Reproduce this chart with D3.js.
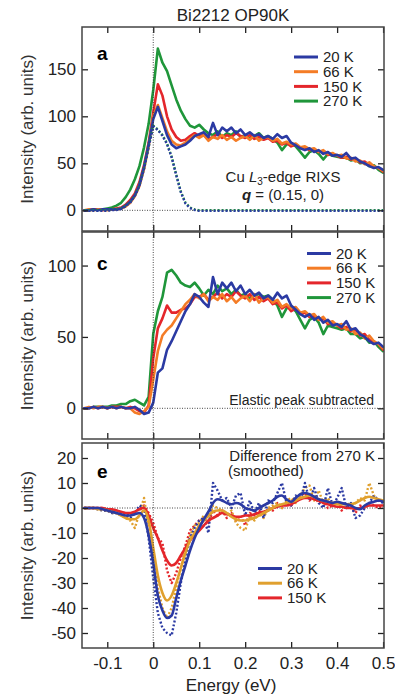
<!DOCTYPE html>
<html>
<head>
<meta charset="utf-8">
<script src="https://cdn.jsdelivr.net/npm/d3@7"></script>
<style>
  body { margin: 0; background: #fff; }
  svg { display: block; font-family: "Liberation Sans", Arial, Helvetica, sans-serif; }
</style>
</head>
<body>
<svg id="chart" width="395" height="698"></svg>
<script>
// energy grid (eV), 0.01 steps
var energy = [-0.15,-0.14,-0.13,-0.12,-0.11,-0.10,-0.09,-0.08,-0.07,-0.06,
  -0.05,-0.04,-0.03,-0.02,-0.01,0.00,0.01,0.02,0.03,0.04,
  0.05,0.06,0.07,0.08,0.09,0.10,0.11,0.12,0.13,0.14,
  0.15,0.16,0.17,0.18,0.19,0.20,0.21,0.22,0.23,0.24,
  0.25,0.26,0.27,0.28,0.29,0.30,0.31,0.32,0.33,0.34,
  0.35,0.36,0.37,0.38,0.39,0.40,0.41,0.42,0.43,0.44,
  0.45,0.46,0.47,0.48,0.49,0.50];

var temps = ["20 K", "66 K", "150 K", "270 K"];

// panel a : raw RIXS spectra
var aBlue = [0,0,1,0,1,1,1,1,2,5,
  9,16,27,46,70,97,110,95,80,70,
  66,68,70,74,79,81,83,78,93,80,
  88,84,88,82,86,80,83,79,81,77,
  79,76,81,77,79,72,69,66,64,66,
  62,64,60,62,58,59,57,61,55,56,
  52,50,47,45,46,43];
var aOrange = [0,1,0,1,1,0,1,1,2,4,
  8,15,26,44,68,100,112,98,84,74,
  70,69,72,76,80,77,80,74,78,76,
  80,75,78,74,77,79,75,80,74,77,
  78,74,76,71,73,70,71,67,68,65,
  66,62,64,60,61,58,59,55,56,52,
  53,49,51,47,45,42];
var aRed = [0,0,1,1,0,1,1,2,3,6,
  11,18,30,48,72,104,134,122,100,86,
  78,74,75,79,82,79,80,76,78,81,
  77,80,78,82,79,77,80,76,78,75,
  77,73,74,70,72,68,70,66,67,64,
  65,62,63,59,60,58,56,57,54,55,
  51,52,48,46,45,41];
var aGreen = [0,0,1,1,1,2,3,5,8,14,
  22,33,47,67,92,128,172,157,148,133,
  118,106,97,90,88,91,86,82,80,84,
  78,82,80,84,78,80,76,79,82,77,
  79,76,72,64,70,71,68,62,56,62,
  64,60,54,60,58,57,56,56,53,54,
  50,51,47,48,43,40];
var aElastic = [0,0,0,0,0,0,1,1,2,5,
  9,16,27,45,68,90,86,80,71,57,
  38,20,8,3,1,0,0,0,0,0,
  0,0,0,0,0,0,0,0,0,0,
  0,0,0,0,0,0,0,0,0,0,
  0,0,0,0,0,0,0,0,0,0,
  0,0,0,0,0,0];

// panel c : elastic peak subtracted
var cBlue = [0,0,1,0,1,0,1,0,1,0,
  0,1,-1,-4,-3,4,25,28,41,47,
  54,61,68,73,80,78,74,71,92,80,
  88,84,88,82,86,80,83,79,81,77,
  79,76,81,77,79,72,69,66,64,66,
  62,64,60,62,58,59,57,61,55,56,
  52,50,47,45,46,43];
var cOrange = [0,1,0,1,1,0,1,0,1,0,
  0,-3,-4,-2,1,20,40,51,55,58,
  63,68,73,76,80,77,80,75,78,76,
  80,75,78,74,77,79,75,80,74,77,
  78,74,76,71,73,70,71,67,68,65,
  66,62,64,60,61,58,59,55,56,52,
  53,49,51,47,45,42];
var cRed = [0,0,1,0,1,0,1,1,1,0,
  1,0,-2,-3,2,35,56,63,72,67,
  67,69,70,73,78,78,80,76,78,81,
  77,80,78,82,79,77,80,76,78,75,
  77,73,74,70,72,68,70,66,67,64,
  65,62,63,59,60,58,56,57,54,55,
  51,52,48,46,45,41];
var cGreen = [0,0,1,1,1,1,2,2,3,3,
  5,6,4,2,8,52,68,78,95,97,
  93,88,86,85,88,84,79,83,80,86,
  82,84,80,83,79,80,77,79,80,78,
  79,76,72,64,70,71,68,62,56,62,
  64,60,52,58,57,56,55,56,52,52,
  49,50,46,47,43,40];

// panel e : difference from 270 K, smoothed (solid) and raw (dotted)
var eBlue = [0,0,0,0,-0.5,-1,-1.5,-2,-2.5,-3,
  -3,-2.5,-2,-4,-11,-22,-35,-41,-44,-43,
  -36,-29,-23,-17,-12,-8,-4.5,-1.5,2,3.5,
  3,2,1.5,2,1.5,0,-0.5,-1,0,1,
  2,3,4.5,5,3.5,2.5,4,5.5,6,5.5,
  4.5,3.5,3,2.5,2,2.5,2,1.5,1,0,
  -0.5,1,2,2.5,3,2.5];
var eOrange = [0,0,0,-0.5,-0.5,-1,-1.5,-2,-3,-4,
  -4.5,-4.5,-3,-1,-5,-16,-27,-34,-37,-35,
  -30,-24,-18,-13,-10,-7,-5,-3,-1.5,-1,
  -1,-2,-3.5,-4.5,-5,-5,-4.5,-4,-3,-2,
  -1,0,1,1.5,2,2.5,3,4,4.5,5,
  4.5,3.5,3,2.5,2,1.5,1.5,1.5,1.5,2,
  3,4,4.5,4,3.5,3];
var eRed = [0,0,0,0,0,-0.5,-0.5,-1,-1.5,-2,
  -2,-1.5,-0.5,0,-3,-8,-12,-17,-21,-23,
  -22,-19,-16,-13,-11,-9,-7,-5,-4,-3,
  -2,-2.5,-3,-3.5,-3.5,-3,-3,-2.5,-2,-1.5,
  -1,0,0.5,1,1,1.5,2.5,3.5,4,4,
  3.5,3,2,1.5,1,0.5,0.5,0,0,-0.5,
  0,0.5,1,1,1,1];
var eBlueRaw = [0,0,0,-0.5,-1,-1,-2,-2,-3,-3,
  -4,-2,1,0,-12,-28,-42,-48,-50,-51,
  -42,-30,-21,-12,-8,-5,-4,-10,10,7,
  3,4,0,5,6,-3,3,-2,2,-4,
  3,2,6,10,2,1,5,3,10,3,
  8,2,0,8,1,4,8,0,2,-4,
  -3,0,2,5,3,2];
var eOrangeRaw = [0,0,0,-0.5,-1,-1,-2,-2,-3,-4,
  -5,-8,-2,4,-8,-20,-32,-40,-44,-40,
  -32,-24,-17,-11,-7,-6,-3,-6,1,0,
  -1,-3,-1,-6,-8,-9,-3,-5,-2,-4,
  0,1,2,0,3,4,2,5,8,9,
  3,7,2,4,1,3,0,2,1,2,
  4,3,10,5,3,3];
var eRedRaw = [0,0,0,0,0,-0.5,-1,-1,-2,-2,
  -3,-2,0,1,-2,-6,-12,-14,-25,-30,
  -26,-20,-15,-9,-7,-5,-4,-6,-1,-3,
  -1,-4,-2,-5,-3,-7,-2,-3,-1,-3,
  0,-1,2,0,2,1,3,5,6,3,
  5,2,3,0,1,2,-1,1,0,-2,
  1,0,2,1,0,1];

var xTicks = [-0.1, 0, 0.1, 0.2, 0.3, 0.4, 0.5];

var BLUE = "#2b3aa3", ORANGE = "#f47c26", RED = "#e4262b", GREEN = "#1f963a", GOLD = "#e0a02e";

var svg = d3.select("#chart");
var left = 82, right = 384;

var x = d3.scaleLinear().domain([-0.155, 0.502]).range([left, right]);

var panels = [
  { id: "a", top: 27, bottom: 231, domain: [-22, 195], ticks: [0, 50, 100, 150],
    series: [
      { v: aGreen, c: GREEN }, { v: aRed, c: RED }, { v: aOrange, c: ORANGE }, { v: aBlue, c: BLUE },
      { v: aElastic, c: GREEN, dots: true }, { v: aElastic, c: BLUE, dots: true, shift: 0.6 }
    ],
    legend: { x: 294, y: 57, colors: [BLUE, ORANGE, RED, GREEN] } },
  { id: "c", top: 232, bottom: 439, domain: [-21.5, 123.5], ticks: [0, 50, 100],
    series: [
      { v: cGreen, c: GREEN }, { v: cRed, c: RED }, { v: cOrange, c: ORANGE }, { v: cBlue, c: BLUE }
    ],
    legend: { x: 307, y: 253.5, colors: [BLUE, ORANGE, RED, GREEN] } },
  { id: "e", top: 443, bottom: 648, domain: [-56, 26], ticks: [-50, -40, -30, -20, -10, 0, 10, 20],
    series: [
      { v: eRedRaw, c: RED, dots: true }, { v: eOrangeRaw, c: GOLD, dots: true }, { v: eBlueRaw, c: BLUE, dots: true },
      { v: eRed, c: RED, smooth: true }, { v: eOrange, c: GOLD, smooth: true }, { v: eBlue, c: BLUE, smooth: true }
    ],
    legend: { x: 258, y: 568.5, colors: [BLUE, GOLD, RED] } }
];

panels.forEach(function (p, pi) {
  var y = d3.scaleLinear().domain(p.domain).range([p.bottom, p.top]);
  var g = svg.append("g");

  g.append("clipPath").attr("id", "clip-" + p.id)
    .append("rect")
    .attr("x", left).attr("y", p.top)
    .attr("width", right - left).attr("height", p.bottom - p.top);

  var plot = g.append("g").attr("clip-path", "url(#clip-" + p.id + ")");

  // zero line
  plot.append("line")
    .attr("x1", left).attr("x2", right)
    .attr("y1", y(0)).attr("y2", y(0))
    .attr("stroke", "#333").attr("stroke-width", 0.9)
    .attr("stroke-dasharray", "1,1.5");

  p.series.forEach(function (s) {
    var line = d3.line()
      .x(function (d, i) { return x(energy[i]); })
      .y(function (d) { return y(d) + (s.shift || 0); })
      .curve(s.smooth ? d3.curveMonotoneX : d3.curveLinear);
    var path = plot.append("path")
      .datum(s.v)
      .attr("fill", "none")
      .attr("stroke", s.c)
      .attr("stroke-linejoin", "round")
      .attr("d", line);
    if (s.dots) {
      path.attr("stroke-width", 2.4)
        .attr("stroke-dasharray", "2,2");
    } else {
      path.attr("stroke-width", 2.6)
        .attr("stroke-linecap", "round");
    }
  });

  // inward ticks on all four sides
  g.append("g").attr("transform", "translate(0," + p.top + ")")
    .call(d3.axisTop(x).tickValues(xTicks).tickSize(-6).tickFormat(""));
  var bottomAxis = d3.axisBottom(x).tickValues(xTicks).tickSize(-6).tickPadding(9)
    .tickFormat(pi === panels.length - 1 ? function (d) { return String(d); } : "");
  g.append("g").attr("transform", "translate(0," + p.bottom + ")")
    .call(bottomAxis);
  g.append("g").attr("transform", "translate(" + left + ",0)")
    .call(d3.axisLeft(y).tickValues(p.ticks).tickSize(-6).tickPadding(6)
      .tickFormat(function (d) { return String(d); }));
  g.append("g").attr("transform", "translate(" + right + ",0)")
    .call(d3.axisRight(y).tickValues(p.ticks).tickSize(-6).tickFormat(""));

  g.selectAll(".domain").remove();
  g.selectAll(".tick line").attr("stroke", "#222").attr("stroke-width", 1.3);
  g.selectAll(".tick text").attr("fill", "#222").style("font-size", "17px")
    .style("font-family", "'Liberation Sans', Arial, sans-serif");

  // frame
  g.append("rect")
    .attr("x", left).attr("y", p.top)
    .attr("width", right - left).attr("height", p.bottom - p.top)
    .attr("fill", "none").attr("stroke", "#444").attr("stroke-width", 1.5);

  // panel letter
  g.append("text")
    .attr("x", 97).attr("y", p.id === "a" ? 60 : (p.id === "c" ? 270 : 478))
    .style("font-size", "19px").style("font-weight", "bold")
    .text(p.id);

  // y label
  g.append("text")
    .attr("transform", "translate(33," + ((p.top + p.bottom) / 2) + ") rotate(-90)")
    .attr("text-anchor", "middle")
    .style("font-size", "17px").attr("fill", "#333")
    .text("Intensity (arb. units)");

  // legend
  var lg = g.append("g").attr("transform", "translate(" + p.legend.x + "," + p.legend.y + ")");
  p.legend.colors.forEach(function (c, i) {
    lg.append("line")
      .attr("x1", 0).attr("x2", 24)
      .attr("y1", i * 14.7).attr("y2", i * 14.7)
      .attr("stroke", c).attr("stroke-width", 3);
    lg.append("text")
      .attr("x", 29).attr("y", i * 14.7 + 5.2)
      .style("font-size", "15px").attr("fill", "#222")
      .text(temps[i]);
  });
});

// vertical dotted line at zero energy through all panels
svg.append("line")
  .attr("x1", x(0)).attr("x2", x(0))
  .attr("y1", 27).attr("y2", 648)
  .attr("stroke", "#333").attr("stroke-width", 0.9)
  .attr("stroke-dasharray", "1,1.5");

// title and axis label
svg.append("text").attr("x", 233).attr("y", 21).attr("text-anchor", "middle")
  .style("font-size", "17px").attr("fill", "#222").text("Bi2212 OP90K");
svg.append("text").attr("x", 231).attr("y", 691).attr("text-anchor", "middle")
  .style("font-size", "17px").attr("fill", "#222").text("Energy (eV)");

// annotations
var ann = svg.append("text").attr("x", 283).attr("y", 182).attr("text-anchor", "middle")
  .style("font-size", "15px").attr("fill", "#222");
ann.append("tspan").text("Cu ");
ann.append("tspan").style("font-style", "italic").text("L");
ann.append("tspan").attr("dy", 3).style("font-size", "10px").text("3");
ann.append("tspan").attr("dy", -3).text("-edge RIXS");

var q = svg.append("text").attr("x", 283).attr("y", 200).attr("text-anchor", "middle")
  .style("font-size", "15px").attr("fill", "#222");
q.append("tspan").style("font-style", "italic").style("font-weight", "bold").text("q");
q.append("tspan").text(" = (0.15, 0)");

svg.append("text").attr("x", 374).attr("y", 405).attr("text-anchor", "end")
  .style("font-size", "14px").attr("fill", "#222").text("Elastic peak subtracted");

svg.append("text").attr("x", 375).attr("y", 461).attr("text-anchor", "end")
  .style("font-size", "15px").attr("fill", "#222").text("Difference from 270 K");
svg.append("text").attr("x", 228).attr("y", 476)
  .style("font-size", "15px").attr("fill", "#222").text("(smoothed)");
</script>
</body>
</html>
